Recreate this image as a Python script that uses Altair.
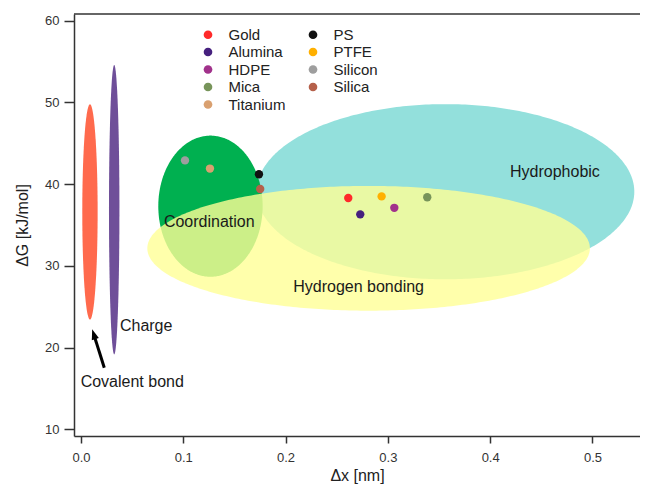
import altair as alt
import numpy as np
import pandas as pd

FONT = "Liberation Sans, Arial, sans-serif"

# Ellipse regions (center / radii in data units)
ell_names = ["Hydrophobic", "Coordination", "Hydrogen bonding", "Covalent bond", "Charge"]
ell_cx = [0.3563, 0.1266, 0.2812, 0.0088, 0.0325]
ell_cy = [39.07, 37.3, 32.15, 36.6, 36.87]
ell_rx = [0.1846, 0.0510, 0.2163, 0.0075, 0.0051]
ell_ry = [10.71, 8.63, 7.63, 13.16, 17.69]
ell_colors = ["#93E0DC", "#00B050", "#FFFF96", "#FF6A4D", "#6F4F99"]
ell_opacity = [1.0, 1.0, 0.8, 1.0, 1.0]

# Materials (points)
mat_names = ["Gold", "Alumina", "HDPE", "Mica", "Titanium", "PS", "PTFE", "Silicon", "Silica"]
mat_dx = [0.2613, 0.2730, 0.3063, 0.3385, 0.1261, 0.1740, 0.2939, 0.1017, 0.1752]
mat_dg = [38.3, 36.3, 37.1, 38.4, 41.9, 41.2, 38.5, 42.9, 39.4]
mat_colors = ["#FF2A2A", "#46207E", "#A1328B", "#77945A", "#D9A070", "#111111", "#FFB000", "#9E9E9E", "#B5604A"]

# Text labels
lab_text = ["Coordination", "Hydrophobic", "Hydrogen bonding", "Charge", "Covalent bond"]
lab_x = [0.0811, 0.4194, 0.2075, 0.0381, -0.0003]
lab_y = [35.41, 41.53, 27.45, 22.64, 15.79]

# Arrow (tail -> head)
arrow_x = [0.0228, 0.0125]
arrow_y = [17.54, 21.65]

x_ticks = [0.0, 0.1, 0.2, 0.3, 0.4, 0.5]
y_ticks = [10, 20, 30, 40, 50, 60]

W, H = 566, 422
xs = alt.Scale(domain=[-0.0068, -0.0068 + W / 1023.0], nice=False, zero=False)
ys = alt.Scale(domain=[9.2, 60.8], nice=False, zero=False)

xax = alt.Axis(values=x_ticks, format=".1f", title="Δx [nm]", grid=False, tickSize=7,
               labelPadding=8, titlePadding=3)
yax = alt.Axis(values=y_ticks, format="d", title="ΔG [kJ/mol]", grid=False, tickSize=10,
               labelPadding=5, titlePadding=14)

layers = []
t = np.linspace(0, np.pi, 181)
for i, name in enumerate(ell_names):
    df = pd.DataFrame({
        "x": ell_cx[i] + ell_rx[i] * np.cos(t),
        "y": ell_cy[i] + ell_ry[i] * np.sin(t),
        "y2": ell_cy[i] - ell_ry[i] * np.sin(t),
    })
    enc = dict(x=alt.X("x:Q", scale=xs, axis=xax),
               y=alt.Y("y:Q", scale=ys, axis=yax),
               y2="y2:Q")
    layers.append(alt.Chart(df).mark_area(color=ell_colors[i], opacity=ell_opacity[i],
                                          interpolate="linear").encode(**enc))

lab_df = pd.DataFrame({"x": lab_x, "y": lab_y, "t": lab_text})
texts = alt.Chart(lab_df).mark_text(align="left", baseline="middle", font=FONT,
                                    fontSize=16, color="#1a1a1a").encode(
    x=alt.X("x:Q", scale=xs), y=alt.Y("y:Q", scale=ys), text="t:N")

arr_df = pd.DataFrame({"x": [arrow_x[0]], "y": [arrow_y[0]], "x2": [arrow_x[1]], "y2": [arrow_y[1]]})
arrow_line = alt.Chart(arr_df).mark_rule(color="black", strokeWidth=3).encode(
    x=alt.X("x:Q", scale=xs), y=alt.Y("y:Q", scale=ys), x2="x2:Q", y2="y2:Q")
head_df = pd.DataFrame({"x": [arrow_x[1]], "y": [arrow_y[1]]})
arrow_head = alt.Chart(head_df).mark_point(shape="M0,-1L0.7,1L-0.7,1Z", filled=True, color="black",
                                           size=110, angle=342.6, opacity=1).encode(
    x=alt.X("x:Q", scale=xs), y=alt.Y("y:Q", scale=ys))

pt_df = pd.DataFrame({"x": mat_dx, "y": mat_dg, "m": mat_names})
points = alt.Chart(pt_df).mark_circle(size=70, opacity=1).encode(
    x=alt.X("x:Q", scale=xs), y=alt.Y("y:Q", scale=ys),
    color=alt.Color("m:N", scale=alt.Scale(domain=mat_names, range=mat_colors),
                    legend=alt.Legend(title=None, orient="none", legendX=126.5, legendY=13,
                                      columns=2, columnPadding=20, rowPadding=1.5,
                                      labelFontSize=15, labelOffset=13, symbolSize=75,
                                      symbolType="circle", symbolStrokeWidth=0, padding=0,
                                      labelFont=FONT, labelColor="#222")))

top_line = alt.Chart(pd.DataFrame({"a": [0]})).mark_rule(color="#333", strokeWidth=1.5).encode(
    x=alt.value(0), x2=alt.value(W), y=alt.value(0), y2=alt.value(0))

chart = alt.layer(*layers, texts, arrow_line, arrow_head, points, top_line).properties(
    width=W, height=H,
    autosize=alt.AutoSizeParams(type="none"),
    padding={"left": 66, "top": 6, "right": 0, "bottom": 48},
).configure_view(strokeWidth=0, stroke="transparent").configure_axis(
    labelFont=FONT, titleFont=FONT, labelFontSize=13, titleFontSize=16,
    labelColor="#333", titleColor="#222", titleFontWeight="normal",
    domainColor="#333", domainWidth=1.5, tickColor="#333", tickWidth=1.5,
)

chart.save("out.html", embed_options={"renderer": "svg", "actions": False})
